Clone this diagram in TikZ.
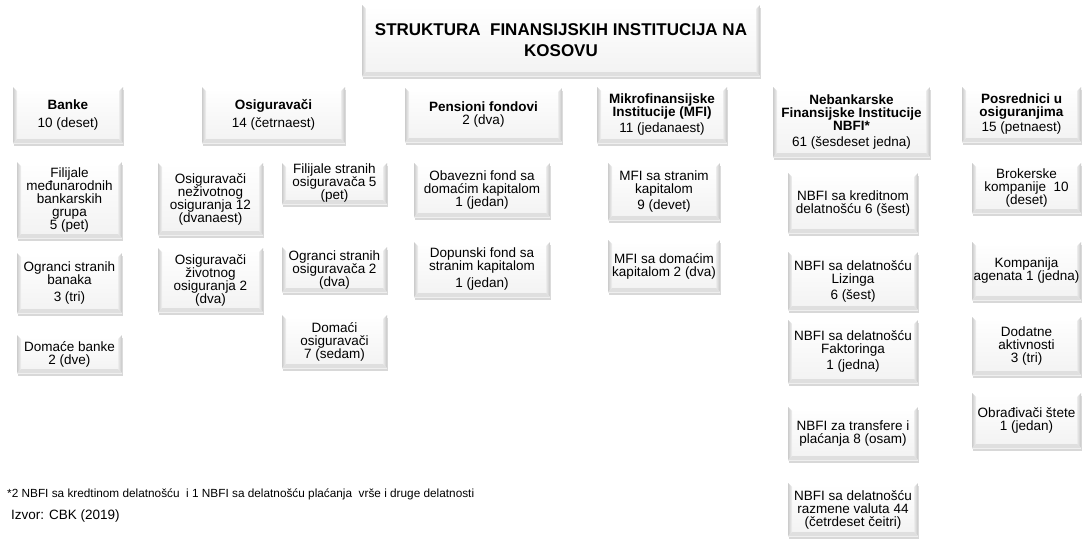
\documentclass[tikz,border=0pt]{standalone}
\usepackage{fontspec}
\setmainfont{Liberation Sans}
\usetikzlibrary{shadows,calc}
\tikzset{
  bevelpic/.style={path picture={
    \path (path picture bounding box.south west) coordinate (bSW)
          (path picture bounding box.north east) coordinate (bNE)
          (path picture bounding box.south east) coordinate (bSE)
          (path picture bounding box.north west) coordinate (bNW);
    \path ($(bSW)+(4pt,4pt)$) coordinate (iSW)
          ($(bNE)+(-4pt,-4pt)$) coordinate (iNE)
          ($(bSE)+(-4pt,4pt)$) coordinate (iSE)
          ($(bNW)+(4pt,-4pt)$) coordinate (iNW);
    \fill[white] (bNW) -- (bNE) -- (iNE) -- (iNW) -- cycle;
    \shade[left color=gray!40,right color=gray!10] (bNW) -- (iNW) -- (iSW) -- (bSW) -- cycle;
    \shade[left color=gray!15,right color=gray!45] (bNE) -- (bSE) -- (iSE) -- (iNE) -- cycle;
    \fill[gray!25] (bSW) -- (iSW) -- (iSE) -- (bSE) -- cycle;
  }},
  box/.style={bevelpic, top color=white, bottom color=gray!10, inner sep=0pt,
    align=center, font=\fontsize{13.5}{13}\selectfont,
    drop shadow={shadow xshift=1pt, shadow yshift=-3pt, opacity=0.3, fill=gray}},
  titlebox/.style={box, font=\fontsize{17}{21}\selectfont\bfseries},
  note/.style={inner sep=0pt, anchor=west}
}
\newcommand\bx[6]{\node[box, minimum width={#4-#2}, minimum height={#5-#3}] (#1) at ({(#2+#4)/2},{(#3+#5)/2}) {#6};}
\begin{document}
\begin{tikzpicture}[x=1pt,y=-1pt]
\useasboundingbox[fill=white] (0,0) rectangle (1083,539);
\node[titlebox, minimum width=398, minimum height=71] (title) at (561,40.5) {STRUKTURA\ \ FINANSIJSKIH INSTITUCIJA NA\\KOSOVU};
% headers
\bx{banke}{13}{87}{123}{143}{\textbf{Banke}\\[5pt]10 (deset)}
\bx{osig}{202}{87}{345}{143}{\textbf{Osiguravači}\\[5pt]14 (četrnaest)}
\bx{pens}{405}{88}{562}{142}{\textbf{Pensioni fondovi}\\2 (dva)}
\bx{mfi}{597}{87}{727}{143}{\textbf{Mikrofinansijske}\\\textbf{Institucije (MFI)}\\[3pt]11 (jedanaest)}
\bx{nbfi}{773}{87}{930}{157}{\textbf{Nebankarske}\\\textbf{Finansijske Institucije}\\\textbf{NBFI*}\\[3pt]61 (šesdeset jedna)}
\bx{posr}{962}{87}{1081}{142}{\textbf{Posrednici u}\\\textbf{osiguranjima}\\[2pt]15 (petnaest)}
% Banke
\bx{b1}{17}{162}{122}{238}{Filijale\\međunarodnih\\bankarskih\\grupa\\5 (pet)}
\bx{b2}{17}{253}{122}{313}{Ogranci stranih\\banaka\\[4pt]3 (tri)}
\bx{b3}{17}{335}{122}{373}{Domaće banke\\2 (dve)}
% Osiguravaci
\bx{o1}{158}{163}{263}{235}{Osiguravači\\neživotnog\\osiguranja 12\\(dvanaest)}
\bx{o2}{158}{248}{263}{312}{Osiguravači\\životnog\\osiguranja 2\\(dva)}
\bx{o3}{282}{163}{387}{204}{Filijale stranih\\osiguravača 5\\(pet)}
\bx{o4}{282}{247}{387}{292}{Ogranci stranih\\osiguravača 2\\(dva)}
\bx{o5}{282}{315}{387}{368}{Domaći\\osiguravači\\7 (sedam)}
% Pensioni
\bx{p1}{414}{163}{550}{217}{Obavezni fond sa\\domaćim kapitalom\\1 (jedan)}
\bx{p2}{414}{242}{550}{297}{Dopunski fond sa\\stranim kapitalom\\[4pt]1 (jedan)}
% MFI
\bx{m1}{608}{163}{720}{220}{MFI sa stranim\\kapitalom\\[3pt]9 (devet)}
\bx{m2}{608}{240}{720}{292}{MFI sa domaćim\\kapitalom 2 (dva)}
% NBFI
\bx{n1}{788}{173}{918}{233}{NBFI sa kreditnom\\delatnošću 6 (šest)}
\bx{n2}{788}{252}{918}{310}{NBFI sa delatnošću\\Lizinga\\[3pt]6 (šest)}
\bx{n3}{788}{320}{918}{383}{NBFI sa delatnošću\\Faktoringa\\[3pt]1 (jedna)}
\bx{n4}{788}{407}{918}{460}{NBFI za transfere i\\plaćanja 8 (osam)}
\bx{n5}{788}{483}{918}{536}{NBFI sa delatnošću\\razmene valuta 44\\(četrdeset čeitri)}
% Posrednici
\bx{r1}{972}{163}{1081}{213}{Brokerske\\kompanije\ \ 10\\(deset)}
\bx{r2}{972}{242}{1081}{300}{Kompanija\\agenata 1 (jedna)}
\bx{r3}{972}{317}{1081}{375}{Dodatne\\aktivnosti\\3 (tri)}
\bx{r4}{972}{393}{1081}{448}{Obrađivači štete\\1 (jedan)}
% notes
\node[note, font=\fontsize{11.8}{12}\selectfont] (fn) at (7,494) {*2 NBFI sa kredtinom delatnošću\ \ i 1 NBFI sa delatnošću plaćanja\ \ vrše i druge delatnosti};
\node[note, font=\fontsize{13.5}{14}\selectfont] (src) at (11,516) {Izvor: CBK (2019)};
\end{tikzpicture}
\end{document}
